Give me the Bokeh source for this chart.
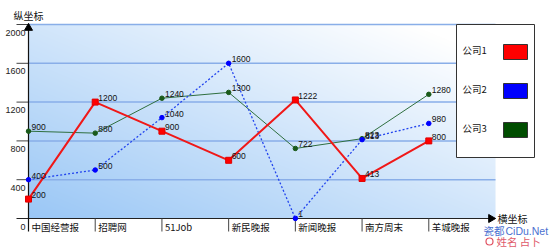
import numpy as np
from bokeh.plotting import figure
from bokeh.core.properties import value
from bokeh.embed import file_html
from bokeh.resources import INLINE

# ---- data ----
categories = ["中国经营报", "招聘网", "51Job", "新民晚报", "新闻晚报", "南方周末", "羊城晚报"]
company1 = [200, 1200, 900, 600, 1222, 413, 800]
company2 = [400, 500, 1040, 1600, 1, 813, 980]
company3 = [900, 880, 1240, 1300, 722, 823, 1280]
series_names = ["公司1", "公司2", "公司3"]
y_ticks = [0, 400, 800, 1200, 1600, 2000]
y_title = "纵坐标"
x_title = "横坐标"

# ---- layout (pixels) ----
W, H = 550, 249
L, R, T, B = 28, 495, 24, 218
n = len(categories)
YMAX = 2000
PX = (R - L) / n
PY = (B - T) / YMAX


def dx(px):
    return (px - L) / PX


def dy(py):
    return (B - py) / PY


CJK = value("Noto Sans CJK SC")
NUM = value("Liberation Sans")

p = figure(width=W, height=H, x_range=(dx(0), dx(W)), y_range=(dy(H), dy(0)),
           min_border=0, toolbar_location=None, output_backend="svg",
           x_axis_location=None, y_axis_location=None, title=None,
           outline_line_color=None, background_fill_color="white",
           border_fill_color="white")
p.xgrid.grid_line_color = None
p.ygrid.grid_line_color = None

# ---- gradient background of the plot area ----
iw, ih = int(R - L), int(B - T)
u = np.linspace(0, 1, iw)[None, :]
v = np.linspace(0, 1, ih)[:, None]
s = np.clip(0.55 * u + 0.55 * v, 0, 1)
c0 = np.array([154, 199, 246])
img = np.empty((ih, iw), dtype=np.uint32)
view = img.view(dtype=np.uint8).reshape((ih, iw, 4))
for k in range(3):
    view[:, :, k] = (c0[k] + (255 - c0[k]) * s).astype(np.uint8)
view[:, :, 3] = 255
p.image_rgba(image=[img], x=0, y=0, dw=n, dh=YMAX)

# ---- grid lines and y ticks ----
grid_vals = [t for t in y_ticks if t > 0]
p.segment(x0=[0] * len(grid_vals), x1=[n] * len(grid_vals), y0=grid_vals, y1=grid_vals,
          line_color="#89aee8", line_width=1.5)
p.segment(x0=[dx(16)] * len(grid_vals), x1=[0] * len(grid_vals), y0=grid_vals, y1=grid_vals,
          line_color="#444444", line_width=1)
p.text(x=[0] * len(y_ticks), y=y_ticks, text=[str(t) for t in y_ticks],
       x_offset=-3, y_offset=8, text_align="right", text_baseline="middle",
       text_font=NUM, text_font_size="9px", text_color="#222222")

# ---- axes ----
xs = list(range(n))
p.segment(x0=[dx(16)], x1=[dx(490)], y0=[0], y1=[0], line_color="#222222", line_width=1)
p.segment(x0=[0], x1=[0], y0=[dy(231)], y1=[YMAX], line_color="#111111", line_width=1.2)
p.segment(x0=xs[1:], x1=xs[1:], y0=[0] * (n - 1), y1=[dy(231)] * (n - 1),
          line_color="#444444", line_width=1)
p.scatter(x=[0], y=[dy(27.5)], marker="triangle", size=8, fill_color="black", line_color="black")
p.scatter(x=[dx(490.5)], y=[0], marker="triangle", angle=-np.pi / 2, size=8,
          fill_color="black", line_color="black")
p.text(x=xs, y=[0] * n, text=categories, x_offset=3, y_offset=8,
       text_align="left", text_baseline="middle", text_font=CJK,
       text_font_size="9.5px", text_color="#111111")
p.text(x=[dx(13)], y=[dy(15)], text=[y_title], text_align="left", text_baseline="middle",
       text_font=CJK, text_font_size="10px", text_color="#111111")
p.text(x=[dx(497)], y=[0], text=[x_title], text_align="left", text_baseline="middle",
       text_font=CJK, text_font_size="10px", text_color="#111111")

# ---- series ----
p.line(xs, company3, line_color="#2f6f3f", line_width=1)
p.line(xs, company2, line_color="#2244ee", line_width=1.3, line_dash="2 2")
p.line(xs, company1, line_color="#f01818", line_width=2)
p.scatter(xs, company3, marker="circle", size=4.5, fill_color="#1a5a1a", line_color="#1a5a1a")
p.scatter(xs, company2, marker="circle", size=4.5, fill_color="#0000ff", line_color="#0000ff")
p.scatter(xs, company1, marker="square", size=6, fill_color="#ff0000", line_color="#e00000")

for vals in (company1, company2, company3):
    p.text(x=xs, y=vals, text=[str(v) for v in vals], x_offset=3, y_offset=-4,
           text_align="left", text_baseline="middle", text_font=NUM,
           text_font_size="8.5px", text_color="#111111")

# ---- legend (label left, swatch right) ----
colors = ["#ff0000", "#0000ff", "#004d00"]
p.quad(left=[dx(456)], right=[dx(534)], top=[dy(24)], bottom=[dy(157)],
       fill_color="white", line_color="#333333", line_width=1)
for k, (name, c) in enumerate(zip(series_names, colors)):
    yc = 51.5 + 39 * k
    p.quad(left=[dx(503)], right=[dx(527)], top=[dy(yc - 7.5)], bottom=[dy(yc + 7.5)],
           fill_color=c, line_color="#333333", line_width=1)
    p.text(x=[dx(462)], y=[dy(yc - 2)], text=[name], text_align="left", text_baseline="middle",
           text_font=CJK, text_font_size="9.5px", text_color="#111111")

# ---- watermark ----
p.text(x=[dx(483)], y=[dy(230)], text=["瓷都"], text_align="left", text_baseline="middle",
       text_font=CJK, text_font_size="10.5px", text_color="#4a6fd0")
p.text(x=[dx(505)], y=[dy(230)], text=["CiDu.Net"], text_align="left", text_baseline="middle",
       text_font=NUM, text_font_size="10.5px", text_color="#4a6fd0")
p.scatter(x=[dx(489)], y=[dy(241)], marker="circle", size=7, fill_color="white",
          line_color="#e05060", line_width=1.2)
p.text(x=[dx(496)], y=[dy(241)], text=["姓名 占卜"], text_align="left", text_baseline="middle",
       text_font=CJK, text_font_size="10.5px", text_color="#e05a6a")

open("out.html", "w").write(file_html(p, INLINE))
